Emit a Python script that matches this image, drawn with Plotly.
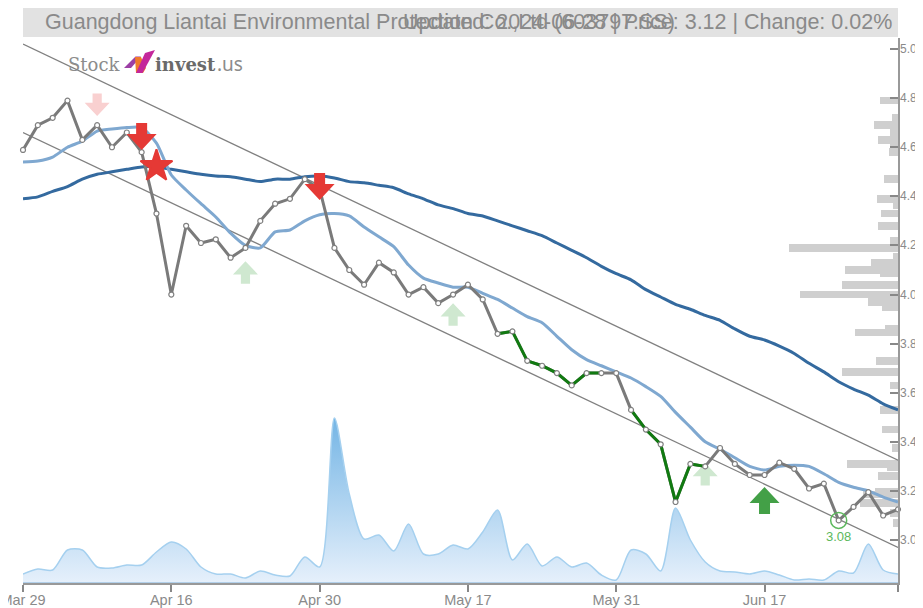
import plotly.graph_objects as go

dates = ["Mar 29","Apr 1","Apr 2","Apr 3","Apr 8","Apr 9","Apr 10","Apr 11","Apr 12","Apr 15","Apr 16","Apr 17","Apr 18","Apr 19","Apr 22","Apr 23","Apr 24","Apr 25","Apr 26","Apr 29","Apr 30",
 "May 6","May 7","May 8","May 9","May 10","May 13","May 14","May 15","May 16","May 17","May 20","May 21","May 22","May 23","May 24","May 27","May 28","May 29","May 30","May 31",
 "Jun 3","Jun 4","Jun 5","Jun 6","Jun 7","Jun 11","Jun 12","Jun 13","Jun 14","Jun 17","Jun 18","Jun 19","Jun 20","Jun 21","Jun 24","Jun 25","Jun 26","Jun 27","Jun 28"]

price = [4.589,4.69,4.72,4.79,4.63,4.69,4.60,4.66,4.58,4.33,4.00,4.28,4.21,4.225,4.15,4.19,4.30,4.37,4.39,4.47,4.43,
 4.19,4.10,4.04,4.13,4.09,4.00,4.03,3.965,4.00,4.04,3.98,3.84,3.85,3.73,3.71,3.68,3.63,3.68,3.68,3.68,
 3.53,3.45,3.39,3.155,3.31,3.30,3.375,3.31,3.265,3.265,3.315,3.29,3.21,3.23,3.08,3.135,3.195,3.10,3.125]

ma_short = [4.54,4.544,4.56,4.60,4.625,4.666,4.674,4.68,4.68,4.617,4.487,4.426,4.37,4.316,4.25,4.20,4.19,4.255,4.263,4.30,4.325,
 4.33,4.32,4.275,4.235,4.195,4.12,4.067,4.047,4.03,4.03,4.005,3.98,3.945,3.91,3.885,3.83,3.775,3.735,3.71,3.685,
 3.66,3.625,3.585,3.52,3.46,3.40,3.37,3.335,3.30,3.285,3.30,3.305,3.30,3.27,3.235,3.215,3.20,3.175,3.155]

ma_long = [4.39,4.398,4.42,4.44,4.47,4.49,4.50,4.51,4.52,4.52,4.51,4.50,4.49,4.483,4.48,4.47,4.46,4.47,4.47,4.48,4.483,
 4.475,4.46,4.455,4.445,4.435,4.41,4.39,4.365,4.35,4.33,4.32,4.30,4.28,4.26,4.24,4.21,4.18,4.15,4.115,4.085,
 4.06,4.02,3.99,3.96,3.94,3.915,3.895,3.86,3.83,3.815,3.79,3.76,3.72,3.685,3.645,3.615,3.59,3.555,3.53]

volume = [0.9,1.4,1.3,3.3,3.3,1.6,1.5,1.8,1.8,3.1,4.1,3.4,1.6,0.9,0.9,0.5,1.2,0.8,0.7,2.6,1.6,
 16.5,8.9,4.4,4.8,3.2,5.9,2.9,2.9,3.8,3.4,5.1,7.3,2.3,3.9,1.7,2.6,1.6,2.0,0.8,0.3,
 3.3,2.9,1.2,7.5,4.3,2.1,1.2,1.1,0.9,1.2,0.8,0.3,0.4,0.3,1.2,1.0,3.9,1.3,0.9]

green_runs = [(32,39),(41,46)]

trend_upper = [5.02,3.325]
trend_lower = [4.66,2.97]

hist_levels = [4.79,4.72,4.69,4.66,4.63,4.60,4.58,4.47,4.39,4.365,4.33,4.28,4.22,4.19,4.155,4.13,4.10,4.085,4.04,4.00,3.97,3.95,3.86,3.845,
 3.73,3.685,3.63,3.53,3.45,3.375,3.31,3.295,3.26,3.195,3.185,3.15,3.11,3.07]
hist_sizes = [18,6,24,8,20,8,9,14,21,5,17,20,8,109,5,27,53,18,56,98,30,16,13,43,22,56,8,18,16,6,51,11,20,23,35,38,8,5]

signals_down = [("Apr 9",4.727,"#f9d0d0",25),("Apr 12",4.589,"#e53935",30),("Apr 30",4.385,"#e53935",30)]
signals_up = [("Apr 23",4.136,"#cfe8d0",25),("May 16",3.965,"#cfe8d0",25),("Jun 11",3.314,"#cfe8d0",25),("Jun 17",3.216,"#43a047",30)]
star_date, star_value = "Apr 15", 4.523
low_date, low_value = "Jun 24", 3.08

xticks = ["Mar 29","Apr 16","Apr 30","May 17","May 31","Jun 17","Jun 28"]
xticklabels = ["Mar 29","Apr 16","Apr 30","May 17","May 31","Jun 17",""]
yticks = [3.0,3.2,3.4,3.6,3.8,4.0,4.2,4.4,4.6,4.8,5.0,5.045]
yticklabels = ["3.0","3.2","3.4","3.6","3.8","4.0","4.2","4.4","4.6","4.8","5.0",""]

title_left = "Guangdong Liantai Environmental Protection Co.,Ltd (603797.SS)"
title_right = "Updated: 2024-06-28 | Price: 3.12 | Change: 0.02%"

W, H = 915, 600
L, R, T, B = 23, 898, 38, 583
def px(x): return (x - L) / (R - L)
def py(y): return 1 - (y - T) / (B - T)
def poly(points, color):
    d = "M" + " L".join(f"{px(a):.5f},{py(b):.5f}" for a, b in points) + " Z"
    return dict(type="path", xref="paper", yref="paper", path=d, fillcolor=color, line=dict(width=0), layer="above")

TXT = "#8a8a8a"
FONT = "Liberation Sans"
fig = go.Figure()

fig.add_trace(go.Bar(y=hist_levels, x=hist_sizes, orientation="h", width=0.031, xaxis="x", yaxis="y",
                     marker=dict(color="#cfcfcf", line=dict(width=0)), hoverinfo="skip"))

fig.add_trace(go.Scatter(x=dates, y=volume, xaxis="x2", yaxis="y3", mode="lines",
                         line=dict(color="#a5d0ef", width=1.5, shape="spline", smoothing=0.8),
                         fill="tozeroy",
                         fillgradient=dict(type="vertical", colorscale=[[0, "#e6f0fb"], [1, "#74b5e5"]])))

for a in (trend_upper, trend_lower):
    fig.add_trace(go.Scatter(x=[dates[0], dates[-1]], y=a, xaxis="x2", yaxis="y", mode="lines",
                             line=dict(color="#808080", width=1.3)))

fig.add_trace(go.Scatter(x=dates, y=ma_long, xaxis="x2", yaxis="y", mode="lines",
                         line=dict(color="#346a9f", width=3, shape="spline", smoothing=0.6)))
fig.add_trace(go.Scatter(x=dates, y=ma_short, xaxis="x2", yaxis="y", mode="lines",
                         line=dict(color="#7fa8d0", width=3, shape="spline", smoothing=0.6)))
fig.add_trace(go.Scatter(x=dates, y=price, xaxis="x2", yaxis="y", mode="lines",
                         line=dict(color="#7a7a7a", width=3)))
for a, b in green_runs:
    fig.add_trace(go.Scatter(x=dates[a:b + 1], y=price[a:b + 1], xaxis="x2", yaxis="y", mode="lines",
                             line=dict(color="#117a11", width=3)))
fig.add_trace(go.Scatter(x=dates, y=price, xaxis="x2", yaxis="y", mode="markers", cliponaxis=False,
                         marker=dict(size=5, color="white", line=dict(color="#808080", width=1.2))))
fig.add_trace(go.Scatter(x=[star_date], y=[star_value], xaxis="x2", yaxis="y", mode="markers",
                         marker=dict(symbol="star", size=24, color="#e53935", line=dict(width=2, color="#e53935"))))
fig.add_trace(go.Scatter(x=[low_date], y=[low_value], xaxis="x2", yaxis="y", mode="markers+text",
                         marker=dict(symbol="circle-open", size=16, color="#5cb85c", line=dict(width=1.5)),
                         text=[f"{low_value:.2f}"], textposition="bottom center",
                         textfont=dict(family=FONT, size=13, color="#5cb85c")))

shapes = [
    dict(type="rect", xref="paper", yref="paper", x0=0, x1=1, y0=py(37), y1=py(7), fillcolor="#e2e2e2",
         line=dict(width=0), layer="below"),
    dict(type="line", xref="paper", yref="y3", x0=0, x1=1, y0=0, y1=0, line=dict(color="#7fb0d8", width=1), layer="above"),
    poly([(124, 68), (135.5, 56.5), (141, 56.5), (131, 68)], "#9c3fa5"),
    poly([(135, 57), (141, 57), (146, 68), (143, 73), (136, 73)], "#f07a2a"),
    poly([(136, 73), (142.5, 73), (155, 50), (145, 53)], "#c4279b"),
]
def arrow(date, value, color, w, up):
    head = 16 * w / 30
    shaft = 11 * w / 30
    half = w / 2
    s = 5.5 * w / 30
    k = -1 if up else 1
    pts = [(0, 0), (half, k * head), (s, k * head), (s, k * (head + shaft)), (-s, k * (head + shaft)), (-s, k * head), (-half, k * head)]
    pale = w < 30
    return dict(type="path", xref="x2", yref="y", xsizemode="pixel", ysizemode="pixel",
                xanchor=dates.index(date), yanchor=value,
                path="M" + " L".join(f"{a:.1f},{b:.1f}" for a, b in pts) + " Z",
                fillcolor=color, line=dict(width=0), layer="below" if pale else "above")
shapes += [arrow(d, v, c, w, False) for d, v, c, w in signals_down]
shapes += [arrow(d, v, c, w, True) for d, v, c, w in signals_up]

annotations = [
    dict(xref="paper", yref="paper", x=px(43), y=py(22), xanchor="left", yanchor="middle", showarrow=False,
         text=title_left, font=dict(family=FONT, size=21.5, color=TXT)),
    dict(xref="paper", yref="paper", x=px(894), y=py(22), xanchor="right", yanchor="middle", showarrow=False,
         text=title_right, font=dict(family=FONT, size=21.5, color=TXT)),
    dict(xref="paper", yref="paper", x=px(66), y=py(64), xanchor="left", yanchor="middle", showarrow=False,
         text="Stock", font=dict(family="DejaVu Serif", size=18, color="#8c8c8c")),
    dict(xref="paper", yref="paper", x=px(153), y=py(64), xanchor="left", yanchor="middle", showarrow=False,
         text="<b>invest</b>", font=dict(family="DejaVu Serif", size=18, color="#6a6a6a")),
    dict(xref="paper", yref="paper", x=px(215), y=py(64), xanchor="left", yanchor="middle", showarrow=False,
         text=".us", font=dict(family="Noto Sans", size=19, color="#8c8c8c")),
]
annotations += [
    dict(xref="paper", yref="y", x=px(898), y=v, xanchor="left", yanchor="middle", showarrow=False,
         text=t, font=dict(family=FONT, size=12, color=TXT))
    for v, t in zip(yticks, yticklabels) if t
]

fig.update_layout(
    width=W, height=H, autosize=False, showlegend=False, paper_bgcolor="white", plot_bgcolor="rgba(0,0,0,0)",
    margin=dict(l=L - 8, r=W + 8 - R, t=T - 8, b=H + 8 - B, pad=0, autoexpand=False), bargap=0, hovermode=False,
    shapes=shapes, annotations=annotations,
    xaxis=dict(visible=False, range=[875, 0], domain=[0, 1], anchor="y", fixedrange=True, automargin=False),
    xaxis2=dict(overlaying="x", anchor="y", side="bottom", type="category", categoryorder="array", categoryarray=dates,
                range=[0, 59], tickmode="array", tickvals=xticks, ticktext=xticklabels, ticks="outside", ticklen=7,
                tickcolor="#888", tickwidth=1.5, showgrid=False, zeroline=False, showline=True, linecolor="#999", linewidth=2,
                tickangle=0, automargin=False, ticklabelstandoff=-4, tickfont=dict(family=FONT, size=14.5, color=TXT)),
    yaxis=dict(domain=[0, 1], anchor="x", side="right", range=[2.825, 5.045], tickmode="array", tickvals=yticks,
               showticklabels=False, ticks="inside", ticklen=8, tickcolor="#888", tickwidth=1.5, showgrid=False, zeroline=False,
               automargin=False, showline=True, linecolor="#999", linewidth=2),
    yaxis3=dict(overlaying="y", visible=False, range=[0, 54.5], automargin=False),
)

fig.write_html("out.html", post_script="document.documentElement.style.overflow='hidden';document.body.style.overflow='hidden';")
